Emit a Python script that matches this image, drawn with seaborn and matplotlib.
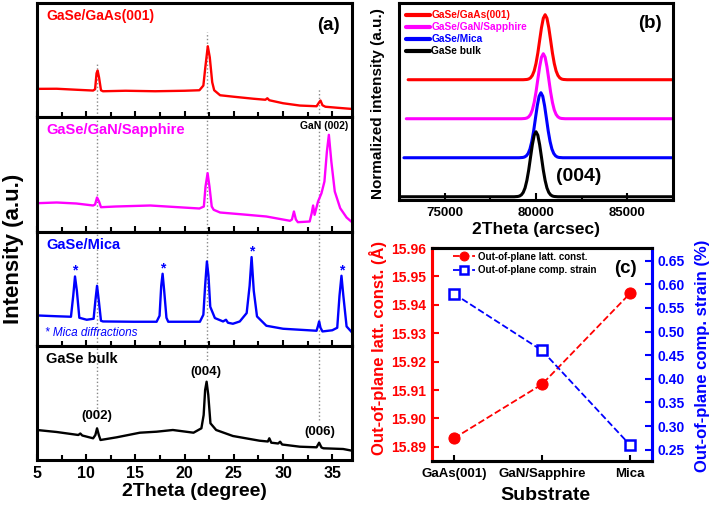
import numpy as np
import seaborn as sns
import matplotlib.pyplot as plt
from matplotlib.ticker import MultipleLocator, FixedLocator

sns.set_theme(style="ticks")
plt.rcParams['font.family'] = ['Liberation Sans', 'DejaVu Sans']
plt.rcParams['font.weight'] = 'bold'
plt.rcParams['axes.labelweight'] = 'bold'
plt.rcParams['text.color'] = 'black'
plt.rcParams['xtick.color'] = 'black'
plt.rcParams['ytick.color'] = 'black'

# ---- panel (a): XRD 2theta scans (heights in a.u.)
gaas_x = [5.0, 7.0, 9.0, 10.7, 10.9, 11.05, 11.16, 11.3, 11.5, 11.7, 14.0, 17.0, 20.0, 21.5, 21.9,
          22.1, 22.35, 22.55, 22.8, 23.0, 23.6, 25.0, 27.0, 28.2, 28.4, 28.6, 30.0, 31.7, 33.4,
          33.6, 33.8, 34.0, 34.3, 35.5, 37.0]
gaas_y = [28.4, 28.5, 27.5, 26.7, 28, 44, 46.7, 40, 27, 26, 26.5, 26, 26.5, 27, 31.7,
          50, 71, 60, 35, 27, 22, 20.5, 18.5, 17.5, 19, 17, 14, 11.7, 11,
          14, 16.7, 12, 10.5, 9.5, 8.3]

gan_x = [5.0, 7.0, 9.0, 10.7, 10.9, 11.1, 11.3, 11.5, 13.0, 16.5, 19.0, 21.5, 21.95, 22.12, 22.33,
         22.52, 22.75, 22.95, 23.6, 26.0, 28.3, 30.7, 30.9, 31.1, 31.3, 31.5, 32.7, 32.9, 33.05,
         33.2, 33.55, 33.9, 34.2, 34.45, 34.65, 34.9, 35.25, 35.8, 36.45, 37.0]
gan_y = [28.3, 29, 28, 26, 27, 34, 30, 24.3, 25, 26, 24.5, 23, 25, 45, 58.3,
         45, 25, 21.7, 19, 17, 15, 10.7, 12, 20, 12, 9.3, 10, 18, 26,
         16.7, 30, 38.3, 50, 80, 96.7, 70, 40, 23.3, 14, 9.3]

mica_x = [5.0, 7.0, 8.45, 8.68, 8.86, 9.05, 9.3, 10.05, 10.75, 10.93, 11.1, 11.28, 11.5, 11.7, 14.8,
          17.15, 17.45, 17.62, 17.76, 17.92, 18.15, 18.33, 21.55, 21.9, 22.08, 22.26, 22.42, 22.6,
          23.07, 23.9, 24.2, 24.4, 24.9, 25.6, 26.3, 26.6, 26.8, 27.02, 27.35, 28.3, 30.0, 31.7,
          33.4, 33.55, 33.66, 33.8, 34.0, 35.0, 35.5, 35.73, 35.93, 36.12, 36.45, 37.0]
mica_y = [30.3, 29.5, 29, 50, 69.3, 55, 28, 26, 27, 45, 60, 45, 25, 24.3, 24,
          24, 30, 60, 72, 55, 28, 24, 24, 31, 60, 84.3, 70, 39,
          27.7, 24.3, 26, 23, 22, 24.3, 32.7, 60, 88.7, 55, 29.3, 20, 17, 16,
          15, 20, 24.3, 18, 14.3, 15.5, 18, 50, 70, 50, 19.3, 13.3]

bulk_x = [5.0, 7.0, 9.2, 9.4, 9.6, 10.7, 10.93, 11.1, 11.28, 11.45, 13.1, 15.45, 17.15, 18.8, 20.9,
          21.7, 21.93, 22.08, 22.23, 22.4, 22.62, 23.2, 24.9, 27.6, 28.45, 28.6, 28.8, 29.5, 29.7,
          29.9, 31.7, 33.4, 33.66, 33.9, 34.1, 36.1, 37.0]
bulk_y = [30, 28, 25, 26.5, 24.5, 21.7, 25, 31.7, 25, 20, 22.7, 27.3, 28.3, 30, 27.3,
          31.7, 45, 70, 78.3, 65, 36.7, 30, 24, 19.3, 18.5, 21.7, 17.3, 16.5, 18.3,
          15.5, 13.3, 12.7, 17.3, 12.5, 11.7, 11, 9.3]

mica_peaks_x = [8.86, 17.76, 26.8, 35.93]
mica_peaks_y = [69.3, 72, 88.7, 70]
guide_x = [11.06, 22.29, 33.63]

# ---- panel (b): normalized (004) rocking profiles
profile_dx = [-7500, -1200, -1000, -900, -800, -700, -600, -500, -400, -300, -200, -100, 0,
              100, 200, 300, 400, 500, 600, 700, 800, 900, 1000, 1200, 7500]
profile_y = [0, 0, 0.004, 0.011, 0.029, 0.066, 0.135, 0.25, 0.41, 0.607, 0.80, 0.946, 1.0,
             0.946, 0.80, 0.607, 0.41, 0.25, 0.135, 0.066, 0.029, 0.011, 0.004, 0, 0]
samples = ['GaSe/GaAs(001)', 'GaSe/GaN/Sapphire', 'GaSe/Mica', 'GaSe bulk']
peak_center = [80500, 80400, 80270, 80000]
peak_offset = [1.8, 1.2, 0.6, 0.0]
colors = ['#ff0000', '#ff00ff', '#0000ff', '#000000']

# ---- panel (c): lattice constant and strain
substrates = ['GaAs(001)', 'GaN/Sapphire', 'Mica']
latt_const = [15.893, 15.912, 15.944]
comp_strain = [0.58, 0.46, 0.26]

fig = plt.figure(figsize=(7.1, 5.09), dpi=100)
W, H = 710, 509


def frame(ax, lw=2.2, color='black'):
    for s in ax.spines.values():
        s.set_linewidth(lw)
        s.set_color(color)
        s.set_visible(True)


# panel (a)
left, right, top, bottom = 37, 352, 3, 460
ph = (bottom - top) / 4
traces = [(gaas_x, gaas_y), (gan_x, gan_y), (mica_x, mica_y), (bulk_x, bulk_y)]
axs_a = []
for i, (xs, ys) in enumerate(traces):
    y0 = top + i * ph
    ax = fig.add_axes([left / W, 1 - (y0 + ph) / H, (right - left) / W, ph / H])
    sns.lineplot(x=xs, y=ys, ax=ax, color=colors[i], lw=1.7, estimator=None)
    ax.set_xlim(5, 37)
    ax.set_ylim(0, ph)
    ax.set_yticks([])
    ax.xaxis.set_major_locator(MultipleLocator(5))
    ax.xaxis.set_minor_locator(MultipleLocator(2.5))
    ax.tick_params(axis='x', which='major', direction='in', length=4, width=1.5,
                   labelsize=11.5, pad=4, labelbottom=(i == 3))
    ax.tick_params(axis='x', which='minor', direction='in', length=3.5, width=1.5)
    frame(ax)
    axs_a.append(ax)

guide_kw = dict(color='#888888', ls=':', lw=1.0, zorder=0)
ymax_top = [0.48, 0.75, 0.26]
ymin_bot = [0.42, 0.875, 0.35]
for gx, yt, yb in zip(guide_x, ymax_top, ymin_bot):
    axs_a[0].axvline(gx, 0, yt, **guide_kw)
    axs_a[1].axvline(gx, **guide_kw)
    axs_a[2].axvline(gx, **guide_kw)
    axs_a[3].axvline(gx, yb, 1, **guide_kw)

axs_a[0].text(0.03, 0.886, samples[0], transform=axs_a[0].transAxes, color=colors[0],
              fontsize=10, va='center')
axs_a[0].text(0.962, 0.807, '(a)', transform=axs_a[0].transAxes, fontsize=13.5,
              ha='right', va='center')
axs_a[1].text(0.03, 0.888, samples[1], transform=axs_a[1].transAxes, color=colors[1],
              fontsize=10.5, va='center')
axs_a[1].text(0.988, 0.923, 'GaN (002)', transform=axs_a[1].transAxes, fontsize=7.5,
              ha='right', va='center')
axs_a[2].text(0.03, 0.88, samples[2], transform=axs_a[2].transAxes, color=colors[2],
              fontsize=10.5, va='center')
axs_a[2].text(0.025, 0.109, '* Mica diffractions', transform=axs_a[2].transAxes,
              color=colors[2], fontsize=8.5, style='italic', weight='normal', va='center')
for px, py in zip(mica_peaks_x, mica_peaks_y):
    axs_a[2].text(px, py + 1.5, '*', color=colors[2], fontsize=10, ha='center', va='baseline')
axs_a[3].text(0.03, 0.881, samples[3], transform=axs_a[3].transAxes, fontsize=10.5,
              va='center')
for lab, lx, ly in zip(['(002)', '(004)', '(006)'], [11.1, 22.2, 33.7], [0.388, 0.773, 0.248]):
    axs_a[3].text(lx, ly, lab, transform=axs_a[3].get_xaxis_transform(), fontsize=9.5,
                  ha='center', va='center')

fig.text(14 / W, 1 - 249 / H, 'Intensity (a.u.)', rotation=90, fontsize=16,
         ha='center', va='center')
fig.text(194.5 / W, 1 - 492 / H, '2Theta (degree)', fontsize=14, ha='center', va='center')

# panel (b)
axb = fig.add_axes([399 / W, 1 - 200 / H, 274 / W, 197 / H])
for name, c0, off, col in zip(samples, peak_center, peak_offset, colors):
    xs = [c0 + d for d in profile_dx]
    ys = [off + v for v in profile_y]
    sns.lineplot(x=xs, y=ys, ax=axb, color=col, lw=2.2, label=name, estimator=None)
axb.set_xlim(72500, 87500)
axb.set_ylim(-0.05, 2.98)
axb.set_yticks([])
axb.xaxis.set_major_locator(FixedLocator([75000, 80000, 85000]))
axb.xaxis.set_minor_locator(FixedLocator([77500, 82500]))
axb.tick_params(axis='x', which='major', direction='in', length=5, width=1.5,
                labelsize=9.5, pad=5)
axb.tick_params(axis='x', which='minor', direction='in', length=3, width=1.5)
frame(axb)
leg = axb.legend(loc='upper left', bbox_to_anchor=(0.0, 1.0), frameon=False, fontsize=7.3,
                 handlelength=2.4, handletextpad=0.1, labelspacing=0.2, borderaxespad=0.5,
                 borderpad=0.2)
for t, col in zip(leg.get_texts(), colors):
    t.set_color(col)
for h in leg.get_lines():
    h.set_linewidth(3)
axb.text(0.959, 0.897, '(b)', transform=axb.transAxes, fontsize=13.5, ha='right', va='center')
axb.text(0.654, 0.118, '(004)', transform=axb.transAxes, fontsize=14, ha='center', va='center')
fig.text(378 / W, 1 - 103.5 / H, 'Normalized intensity (a.u.)', rotation=90, fontsize=11,
         ha='center', va='center')
fig.text(535.8 / W, 1 - 229 / H, '2Theta (arcsec)', fontsize=12.5, ha='center', va='center')

# panel (c)
axc = fig.add_axes([432 / W, 1 - 461 / H, 220 / W, 213 / H])
axr = axc.twinx()
pos = list(range(len(substrates)))
sns.lineplot(x=pos, y=latt_const, ax=axc, color='#ff0000', lw=1.3, ls='--', marker='o',
             markersize=8, markeredgecolor='#ff0000', label='Out-of-plane latt. const.',
             legend=False, estimator=None)
sns.lineplot(x=pos, y=comp_strain, ax=axr, color='#0000ff', lw=1.3, ls='--', marker='s',
             markersize=7.5, markerfacecolor='white', markeredgecolor='#0000ff',
             markeredgewidth=1.8, label='Out-of-plane comp. strain', legend=False,
             estimator=None)
axc.set_xlim(-0.25, 2.25)
axc.set_ylim(15.885, 15.96)
axr.set_ylim(0.226, 0.677)
axc.set_xticks(pos)
axc.set_xticklabels(substrates)
axc.yaxis.set_major_locator(MultipleLocator(0.01))
axr.yaxis.set_major_locator(MultipleLocator(0.05))
axc.yaxis.set_major_formatter(plt.FormatStrFormatter('%.2f'))
axr.yaxis.set_major_formatter(plt.FormatStrFormatter('%.2f'))
axc.tick_params(axis='x', direction='in', length=4, width=1.5, labelsize=9.5, pad=5)
axc.tick_params(axis='y', direction='in', length=5, width=1.5, labelsize=10,
                colors='#ff0000', pad=4)
axr.tick_params(axis='y', direction='in', length=5, width=1.5, labelsize=10,
                colors='#0000ff', pad=4)
for a in (axc, axr):
    frame(a)
    a.set_xlabel('')
    a.set_ylabel('')
axc.spines['left'].set_color('#ff0000')
axr.spines['left'].set_color('#ff0000')
axc.spines['right'].set_color('#0000ff')
axr.spines['right'].set_color('#0000ff')
h1, l1 = axc.get_legend_handles_labels()
h2, l2 = axr.get_legend_handles_labels()
axr.legend(h1 + h2, l1 + l2, loc='upper left', bbox_to_anchor=(0.08, 1.0), frameon=False,
           fontsize=7, handlelength=2.2, handletextpad=0.3, labelspacing=0.35,
           borderaxespad=0.2, borderpad=0.2, markerscale=0.8)
axr.text(0.93, 0.905, '(c)', transform=axc.transAxes, fontsize=13.5, ha='right', va='center')
fig.text(378 / W, 1 - 347.5 / H, 'Out-of-plane latt. const. (Å)', rotation=90, fontsize=12,
         color='#ff0000', ha='center', va='center')
fig.text(702 / W, 1 - 355.5 / H, 'Out-of-plane comp. strain (%)', rotation=90, fontsize=12,
         color='#0000ff', ha='center', va='center')
fig.text(545 / W, 1 - 495 / H, 'Substrate', fontsize=14, ha='center', va='center')

fig.savefig('out.png', dpi=100)
